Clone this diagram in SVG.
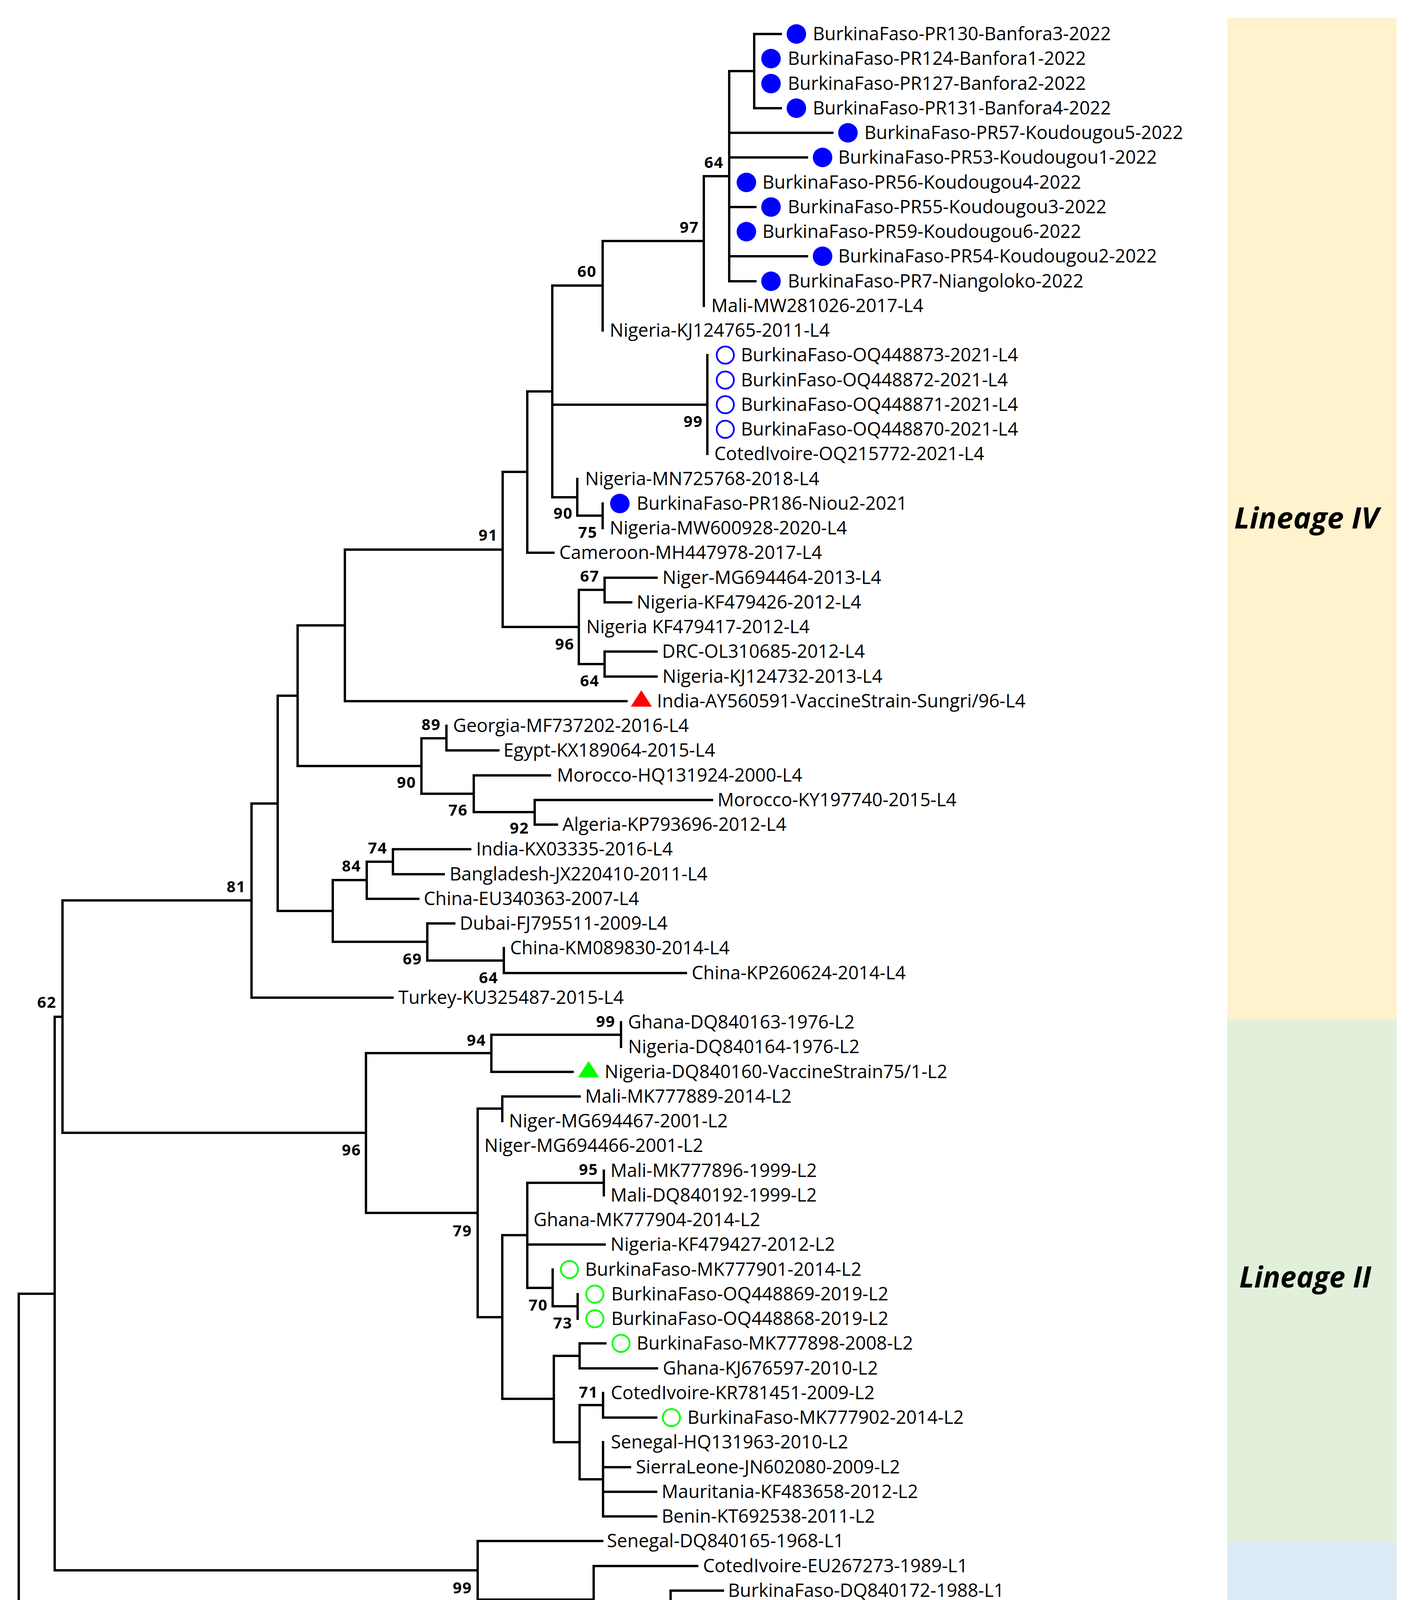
<svg xmlns="http://www.w3.org/2000/svg" width="3628" height="4686" viewBox="0 0 3628 4686">
<style>
.br{fill:none;stroke:#000;stroke-width:6;stroke-linecap:square}
.t{font-family:"Open Sans","Noto Sans","DejaVu Sans",sans-serif;font-size:47px;fill:#000}
.bs{font-family:"Open Sans","Noto Sans","DejaVu Sans",sans-serif;font-size:40px;font-weight:bold;text-anchor:middle;letter-spacing:2px;fill:#000}
.lin{font-family:"Open Sans","Noto Sans","DejaVu Sans",sans-serif;font-size:76px;font-weight:bold;font-style:italic;fill:#000}
.fb{fill:#0000FF}
.ob{fill:none;stroke:#0000FF;stroke-width:4.5}
.og{fill:none;stroke:#00FF00;stroke-width:4.5}
.rt{fill:#FF0000}
.gt{fill:#00FF00}
</style>
<rect width="3628" height="4686" fill="#FFFFFF"/>
<g id="lineage-bars">
<g id="lineage-IV"><rect x="3142" y="46" width="434" height="2564" fill="#FFF2CC"/><text class="lin" x="3160" y="1353" textLength="370" lengthAdjust="spacingAndGlyphs">Lineage IV</text></g>
<g id="lineage-II"><rect x="3142" y="2610" width="434" height="1336" fill="#E2EFDA"/><text class="lin" x="3173" y="3296" textLength="338" lengthAdjust="spacingAndGlyphs">Lineage II</text></g>
<g id="lineage-I"><rect x="3142" y="3946" width="434" height="434" fill="#DDEBF7"/><text class="lin" x="3173" y="4191" textLength="316" lengthAdjust="spacingAndGlyphs">Lineage I</text></g>
<g id="lineage-III"><rect x="3142" y="4380" width="434" height="135" fill="#F2F2F2"/><text class="lin" x="3166" y="4461" textLength="362" lengthAdjust="spacingAndGlyphs">Lineage III</text></g>
</g>
<g id="connectors">
<path class="br" d="M1931,87V277M1931,87H1999M1931,277H1999"/>
<path class="br" d="M1867,182V720M1867,182H1931M1867,340H2131M1867,403H2066M1867,530H1934M1867,656H2066M1867,720H1934"/>
<path class="br" d="M1802,451V783M1802,451H1867"/>
<path class="br" d="M1543,617V846M1543,617H1802"/>
<path class="br" d="M1811,909V1162"/>
<path class="br" d="M1543,1289V1352"/>
<path class="br" d="M1478,1226V1320M1478,1320H1543"/>
<path class="br" d="M1414,731V1273M1414,731H1543M1414,1036H1811M1414,1273H1478"/>
<path class="br" d="M1350,1002V1415M1350,1002H1414M1350,1415H1417"/>
<path class="br" d="M1548,1479V1542M1548,1479H1681M1548,1542H1616"/>
<path class="br" d="M1548,1668V1732M1548,1668H1681M1548,1732H1681"/>
<path class="br" d="M1482,1510V1700M1482,1510H1548M1482,1700H1548"/>
<path class="br" d="M1287,1208V1605M1287,1208H1350M1287,1605H1482"/>
<path class="br" d="M883,1407V1795M883,1407H1287M883,1795H1604"/>
<path class="br" d="M1143,1858V1921M1143,1921H1276"/>
<path class="br" d="M1369,2048V2111M1369,2048H1823M1369,2111H1426"/>
<path class="br" d="M1213,1985V2079M1213,1985H1408M1213,2079H1369"/>
<path class="br" d="M1079,1890V2032M1079,1890H1143M1079,2032H1213"/>
<path class="br" d="M762,1601V1961M762,1601H883M762,1961H1079"/>
<path class="br" d="M1006,2174V2238M1006,2174H1204M1006,2238H1136"/>
<path class="br" d="M939,2206V2301M939,2206H1006M939,2301H1071"/>
<path class="br" d="M1290,2427V2491M1290,2491H1756"/>
<path class="br" d="M1094,2364V2459M1094,2364H1163M1094,2459H1290"/>
<path class="br" d="M852,2253V2411M852,2253H939M852,2411H1094"/>
<path class="br" d="M711,1781V2332M711,1781H762M711,2332H852"/>
<path class="br" d="M644,2057V2554M644,2057H711M644,2554H1005"/>
<path class="br" d="M1590,2617V2680"/>
<path class="br" d="M1258,2649V2744M1258,2649H1590M1258,2744H1466"/>
<path class="br" d="M1286,2807V2870M1286,2807H1484"/>
<path class="br" d="M1546,2997V3060"/>
<path class="br" d="M1479,3313V3376"/>
<path class="br" d="M1415,3250V3344M1415,3344H1479"/>
<path class="br" d="M1350,3028V3297M1350,3028H1546M1350,3186H1548M1350,3297H1415"/>
<path class="br" d="M1484,3439V3503M1484,3439H1550M1484,3503H1682"/>
<path class="br" d="M1544,3566V3629M1544,3629H1680"/>
<path class="br" d="M1544,3692V3882M1544,3756H1613M1544,3819H1680M1544,3882H1680"/>
<path class="br" d="M1484,3597V3787M1484,3597H1544M1484,3787H1544"/>
<path class="br" d="M1418,3471V3692M1418,3471H1484M1418,3692H1484"/>
<path class="br" d="M1286,3162V3581M1286,3162H1350M1286,3581H1418"/>
<path class="br" d="M1223,2838V3372M1223,2838H1286M1223,3372H1286"/>
<path class="br" d="M937,2696V3105M937,2696H1258M937,3105H1223"/>
<path class="br" d="M160,2305V2900M160,2305H644M160,2900H937"/>
<path class="br" d="M1717,4072V4135M1717,4072H1851M1717,4135H1786"/>
<path class="br" d="M1783,4198V4325M1783,4262H1915"/>
<path class="br" d="M1651,4103V4262M1651,4103H1717M1651,4262H1783"/>
<path class="br" d="M1520,4009V4182M1520,4009H1785M1520,4182H1651"/>
<path class="br" d="M1223,3945V4095M1223,3945H1542M1223,4095H1520"/>
<path class="br" d="M140,2603V4020M140,2603H160M140,4020H1223"/>
<path class="br" d="M1650,4388V4451M1650,4388H2130M1650,4451H2005"/>
<path class="br" d="M48,3312V4420M48,3312H140M48,4420H1650"/>
</g>
<g id="support-values">
<text class="bs" x="1828" y="430">64</text>
<text class="bs" x="1765" y="596">97</text>
<text class="bs" x="1503" y="709">60</text>
<text class="bs" x="1775" y="1093">99</text>
<text class="bs" x="1442" y="1328">90</text>
<text class="bs" x="1505" y="1377">75</text>
<text class="bs" x="1250" y="1384">91</text>
<text class="bs" x="1510" y="1489">67</text>
<text class="bs" x="1446" y="1663">96</text>
<text class="bs" x="1510" y="1757">64</text>
<text class="bs" x="1104" y="1869">89</text>
<text class="bs" x="1041" y="2017">90</text>
<text class="bs" x="1173" y="2088">76</text>
<text class="bs" x="1330" y="2134">92</text>
<text class="bs" x="967" y="2185">74</text>
<text class="bs" x="900" y="2231">84</text>
<text class="bs" x="605" y="2284">81</text>
<text class="bs" x="1056" y="2469">69</text>
<text class="bs" x="1251" y="2517">64</text>
<text class="bs" x="120" y="2580">62</text>
<text class="bs" x="1551" y="2629">99</text>
<text class="bs" x="1220" y="2677">94</text>
<text class="bs" x="900" y="2958">96</text>
<text class="bs" x="1507" y="3008">95</text>
<text class="bs" x="1184" y="3165">79</text>
<text class="bs" x="1378" y="3355">70</text>
<text class="bs" x="1441" y="3401">73</text>
<text class="bs" x="1507" y="3578">71</text>
<text class="bs" x="1184" y="4079">99</text>
<text class="bs" x="1483" y="4153">97</text>
<text class="bs" x="1613" y="4242">85</text>
<text class="bs" x="1745" y="4320">96</text>
<text class="bs" x="1602" y="4475">100</text>
</g>
<g id="tips">
<g id="tip01"><circle class="fb" cx="2039" cy="87" r="25"/><text class="t" x="2081" y="103">BurkinaFaso-PR130-Banfora3-2022</text></g>
<g id="tip02"><circle class="fb" cx="1974" cy="150" r="25"/><text class="t" x="2017" y="166">BurkinaFaso-PR124-Banfora1-2022</text></g>
<g id="tip03"><circle class="fb" cx="1974" cy="214" r="25"/><text class="t" x="2017" y="230">BurkinaFaso-PR127-Banfora2-2022</text></g>
<g id="tip04"><circle class="fb" cx="2039" cy="277" r="25"/><text class="t" x="2081" y="293">BurkinaFaso-PR131-Banfora4-2022</text></g>
<g id="tip05"><circle class="fb" cx="2171" cy="340" r="25"/><text class="t" x="2213" y="356">BurkinaFaso-PR57-Koudougou5-2022</text></g>
<g id="tip06"><circle class="fb" cx="2106" cy="403" r="25"/><text class="t" x="2146" y="419">BurkinaFaso-PR53-Koudougou1-2022</text></g>
<g id="tip07"><circle class="fb" cx="1911" cy="467" r="25"/><text class="t" x="1952" y="483">BurkinaFaso-PR56-Koudougou4-2022</text></g>
<g id="tip08"><circle class="fb" cx="1974" cy="530" r="25"/><text class="t" x="2017" y="546">BurkinaFaso-PR55-Koudougou3-2022</text></g>
<g id="tip09"><circle class="fb" cx="1911" cy="593" r="25"/><text class="t" x="1952" y="609">BurkinaFaso-PR59-Koudougou6-2022</text></g>
<g id="tip10"><circle class="fb" cx="2106" cy="656" r="25"/><text class="t" x="2146" y="672">BurkinaFaso-PR54-Koudougou2-2022</text></g>
<g id="tip11"><circle class="fb" cx="1974" cy="720" r="25"/><text class="t" x="2017" y="736">BurkinaFaso-PR7-Niangoloko-2022</text></g>
<g id="tip12"><text class="t" x="1821" y="799">Mali-MW281026-2017-L4</text></g>
<g id="tip13"><text class="t" x="1561" y="862">Nigeria-KJ124765-2011-L4</text></g>
<g id="tip14"><circle class="ob" cx="1857" cy="909" r="22"/><text class="t" x="1897" y="925">BurkinaFaso-OQ448873-2021-L4</text></g>
<g id="tip15"><circle class="ob" cx="1857" cy="973" r="22"/><text class="t" x="1897" y="989">BurkinFaso-OQ448872-2021-L4</text></g>
<g id="tip16"><circle class="ob" cx="1857" cy="1036" r="22"/><text class="t" x="1897" y="1052">BurkinaFaso-OQ448871-2021-L4</text></g>
<g id="tip17"><circle class="ob" cx="1857" cy="1099" r="22"/><text class="t" x="1897" y="1115">BurkinaFaso-OQ448870-2021-L4</text></g>
<g id="tip18"><text class="t" x="1829" y="1178">CotedIvoire-OQ215772-2021-L4</text></g>
<g id="tip19"><text class="t" x="1498" y="1242">Nigeria-MN725768-2018-L4</text></g>
<g id="tip20"><circle class="fb" cx="1587" cy="1289" r="25"/><text class="t" x="1630" y="1305">BurkinaFaso-PR186-Niou2-2021</text></g>
<g id="tip21"><text class="t" x="1561" y="1368">Nigeria-MW600928-2020-L4</text></g>
<g id="tip22"><text class="t" x="1432" y="1431">Cameroon-MH447978-2017-L4</text></g>
<g id="tip23"><text class="t" x="1696" y="1495">Niger-MG694464-2013-L4</text></g>
<g id="tip24"><text class="t" x="1630" y="1558">Nigeria-KF479426-2012-L4</text></g>
<g id="tip25"><text class="t" x="1501" y="1621">Nigeria KF479417-2012-L4</text></g>
<g id="tip26"><text class="t" x="1695" y="1684">DRC-OL310685-2012-L4</text></g>
<g id="tip27"><text class="t" x="1696" y="1748">Nigeria-KJ124732-2013-L4</text></g>
<g id="tip28"><polygon class="rt" points="1642,1767 1615,1809 1669,1809"/><text class="t" x="1682" y="1811">India-AY560591-VaccineStrain-Sungri/96-L4</text></g>
<g id="tip29"><text class="t" x="1160" y="1874">Georgia-MF737202-2016-L4</text></g>
<g id="tip30"><text class="t" x="1289" y="1937">Egypt-KX189064-2015-L4</text></g>
<g id="tip31"><text class="t" x="1426" y="2001">Morocco-HQ131924-2000-L4</text></g>
<g id="tip32"><text class="t" x="1837" y="2064">Morocco-KY197740-2015-L4</text></g>
<g id="tip33"><text class="t" x="1440" y="2127">Algeria-KP793696-2012-L4</text></g>
<g id="tip34"><text class="t" x="1219" y="2190">India-KX03335-2016-L4</text></g>
<g id="tip35"><text class="t" x="1151" y="2254">Bangladesh-JX220410-2011-L4</text></g>
<g id="tip36"><text class="t" x="1085" y="2317">China-EU340363-2007-L4</text></g>
<g id="tip37"><text class="t" x="1177" y="2380">Dubai-FJ795511-2009-L4</text></g>
<g id="tip38"><text class="t" x="1306" y="2443">China-KM089830-2014-L4</text></g>
<g id="tip39"><text class="t" x="1771" y="2507">China-KP260624-2014-L4</text></g>
<g id="tip40"><text class="t" x="1020" y="2570">Turkey-KU325487-2015-L4</text></g>
<g id="tip41"><text class="t" x="1608" y="2633">Ghana-DQ840163-1976-L2</text></g>
<g id="tip42"><text class="t" x="1608" y="2696">Nigeria-DQ840164-1976-L2</text></g>
<g id="tip43"><polygon class="gt" points="1507,2716 1480,2758 1534,2758"/><text class="t" x="1548" y="2760">Nigeria-DQ840160-VaccineStrain75/1-L2</text></g>
<g id="tip44"><text class="t" x="1498" y="2823">Mali-MK777889-2014-L2</text></g>
<g id="tip45"><text class="t" x="1303" y="2886">Niger-MG694467-2001-L2</text></g>
<g id="tip46"><text class="t" x="1240" y="2949">Niger-MG694466-2001-L2</text></g>
<g id="tip47"><text class="t" x="1563" y="3013">Mali-MK777896-1999-L2</text></g>
<g id="tip48"><text class="t" x="1563" y="3076">Mali-DQ840192-1999-L2</text></g>
<g id="tip49"><text class="t" x="1366" y="3139">Ghana-MK777904-2014-L2</text></g>
<g id="tip50"><text class="t" x="1563" y="3202">Nigeria-KF479427-2012-L2</text></g>
<g id="tip51"><circle class="og" cx="1458" cy="3250" r="22"/><text class="t" x="1498" y="3266">BurkinaFaso-MK777901-2014-L2</text></g>
<g id="tip52"><circle class="og" cx="1523" cy="3313" r="22"/><text class="t" x="1565" y="3329">BurkinaFaso-OQ448869-2019-L2</text></g>
<g id="tip53"><circle class="og" cx="1523" cy="3376" r="22"/><text class="t" x="1565" y="3392">BurkinaFaso-OQ448868-2019-L2</text></g>
<g id="tip54"><circle class="og" cx="1590" cy="3439" r="22"/><text class="t" x="1630" y="3455">BurkinaFaso-MK777898-2008-L2</text></g>
<g id="tip55"><text class="t" x="1697" y="3519">Ghana-KJ676597-2010-L2</text></g>
<g id="tip56"><text class="t" x="1564" y="3582">CotedIvoire-KR781451-2009-L2</text></g>
<g id="tip57"><circle class="og" cx="1719" cy="3629" r="22"/><text class="t" x="1760" y="3645">BurkinaFaso-MK777902-2014-L2</text></g>
<g id="tip58"><text class="t" x="1564" y="3708">Senegal-HQ131963-2010-L2</text></g>
<g id="tip59"><text class="t" x="1628" y="3772">SierraLeone-JN602080-2009-L2</text></g>
<g id="tip60"><text class="t" x="1694" y="3835">Mauritania-KF483658-2012-L2</text></g>
<g id="tip61"><text class="t" x="1694" y="3898">Benin-KT692538-2011-L2</text></g>
<g id="tip62"><text class="t" x="1554" y="3961">Senegal-DQ840165-1968-L1</text></g>
<g id="tip63"><text class="t" x="1800" y="4025">CotedIvoire-EU267273-1989-L1</text></g>
<g id="tip64"><text class="t" x="1864" y="4088">BurkinaFaso-DQ840172-1988-L1</text></g>
<g id="tip65"><text class="t" x="1797" y="4151">Senegal-DQ840174-1994-L1</text></g>
<g id="tip66"><text class="t" x="1800" y="4214">Mali-MW281014-2014-L1</text></g>
<g id="tip67"><text class="t" x="1929" y="4278">Mali-MW281010-2015-L1</text></g>
<g id="tip68"><text class="t" x="1800" y="4341">Niger-MG694468-2001-L1</text></g>
<g id="tip69"><text class="t" x="2146" y="4404">Comores-KM669158-2013-L3</text></g>
<g id="tip70"><text class="t" x="2018" y="4467">Ethiopia-DQ840175-1994-L3</text></g>
</g>
<g id="scale-bar">
<path d="M217,4580H954" stroke="#000" stroke-width="6" fill="none"/>
<path d="M217,4564V4596M954,4564V4596" stroke="#000" stroke-width="4" fill="none"/>
<text x="557" y="4656" text-anchor="middle" font-family="Open Sans, Noto Sans, sans-serif" font-size="66">0.05</text>
</g>
</svg>
